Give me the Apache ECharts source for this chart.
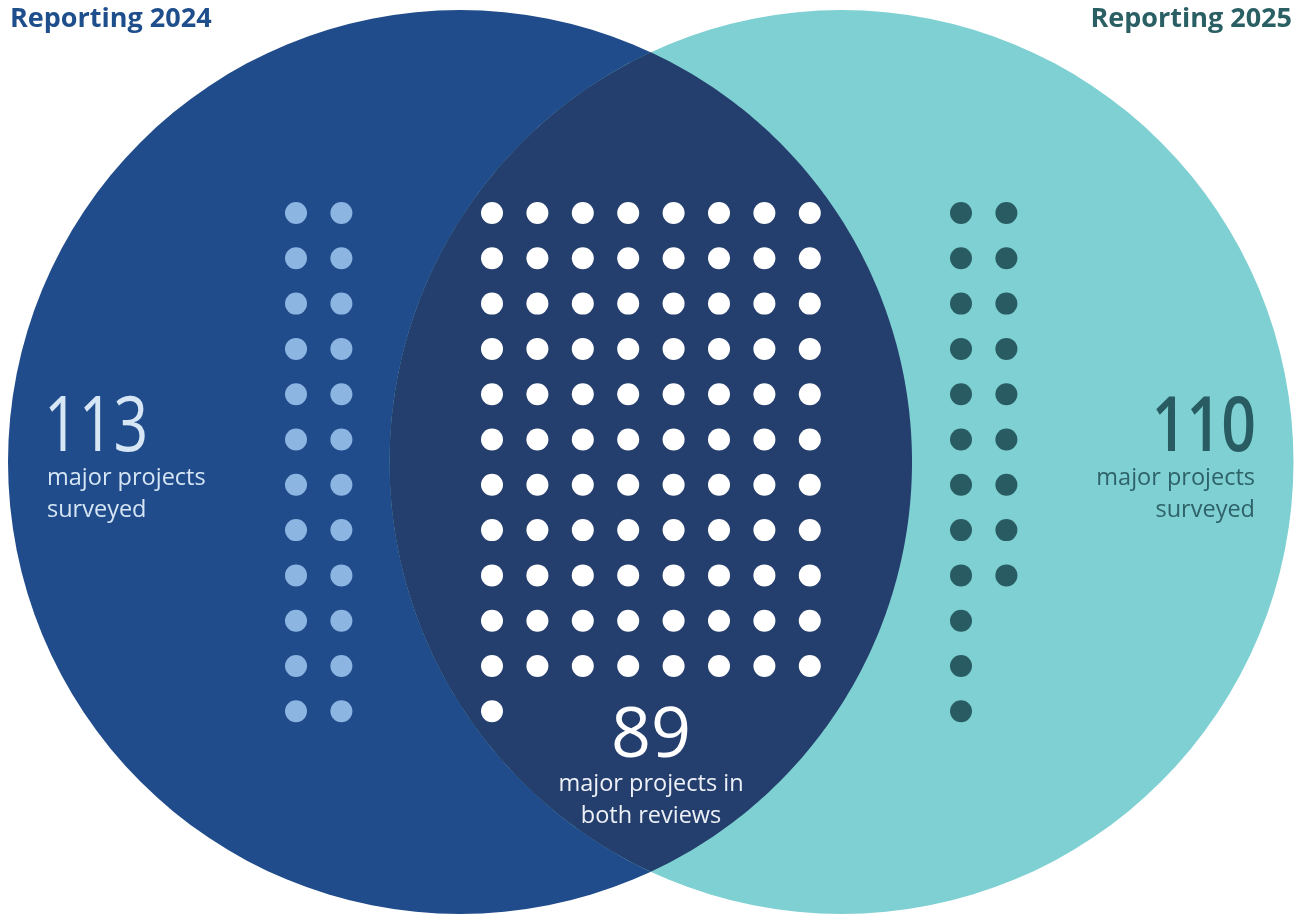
<!DOCTYPE html>
<html><head><meta charset="utf-8">
<style>html,body{margin:0;padding:0;background:#fff}#c{width:1295px;height:914px}</style>
<script src="https://cdn.jsdelivr.net/npm/echarts@6/dist/echarts.min.js"></script>
</head><body><div id="c"></div><script>
// ---- data ----
const setNames = ['Reporting 2024', 'Reporting 2025'];
const setTotals = [113, 110];
const bothTotal = 89;
const totalCaption = ['major projects', 'surveyed'];
const bothCaption = ['major projects in', 'both reviews'];

// ---- layout / style ----
const W = 1295, H = 914;
const circleCx = [460, 841.5], circleCy = 462, circleR = 452;
const circleColors = ['#204c8c', '#7ed0d2'];
const lensColor = '#243e6d';
const dotColors = ['#8db5e2', '#ffffff', '#295c62'];
const pitchX = 45.4, pitchY = 45.3, rowTop = 213, rowsPerCol = 12;
const leftCol0 = 296, centerCol0 = 492, rightCol0 = 961, centerCols = 8;
const font = '"Open Sans", "Noto Sans", sans-serif';

const leftOnly = setTotals[0] - bothTotal;   // 24
const rightOnly = setTotals[1] - bothTotal;  // 21

// dots: side groups fill column by column, middle fills row by row
const leftDots = [], midDots = [], rightDots = [];
for (let i = 0; i < leftOnly; i++) {
  leftDots.push([leftCol0 + Math.floor(i / rowsPerCol) * pitchX, rowTop + (i % rowsPerCol) * pitchY]);
}
for (let i = 0; i < rightOnly; i++) {
  rightDots.push([rightCol0 + Math.floor(i / rowsPerCol) * pitchX, rowTop + (i % rowsPerCol) * pitchY]);
}
for (let i = 0; i < bothTotal; i++) {
  midDots.push([centerCol0 + (i % centerCols) * pitchX, rowTop + Math.floor(i / centerCols) * pitchY]);
}

// lens polygon (in data units)
function lensPoints() {
  const d = circleCx[1] - circleCx[0];
  const mx = (circleCx[0] + circleCx[1]) / 2;
  const h = Math.sqrt(circleR * circleR - (d / 2) * (d / 2));
  const a0 = Math.atan2(-h, mx - circleCx[0]);
  const pts = [];
  const N = 200;
  for (let k = 0; k <= N; k++) {
    const a = a0 + (-2 * a0) * k / N;
    pts.push([circleCx[0] + circleR * Math.cos(a), circleCy + circleR * Math.sin(a)]);
  }
  const b0 = Math.atan2(h, mx - circleCx[1]);
  const b1 = Math.atan2(-h, mx - circleCx[1]) + 2 * Math.PI;
  for (let k = 0; k <= N; k++) {
    const a = b0 + (b1 - b0) * k / N;
    pts.push([circleCx[1] + circleR * Math.cos(a), circleCy + circleR * Math.sin(a)]);
  }
  return pts;
}

const chart = echarts.init(document.getElementById('c'), null, {renderer: 'canvas'});

function txt(text, x, y, size, color, align, weight, sx) {
  return {type: 'text', x: x, y: y, z: 100, silent: true, scaleX: sx || 1,
    style: {text: text, font: (weight || 'normal') + ' ' + size + 'px ' + font, fill: color,
      align: align, verticalAlign: 'middle'}};
}

chart.setOption({
  animation: false,
  backgroundColor: '#ffffff',
  grid: {left: 0, right: 0, top: 0, bottom: 0},
  xAxis: {type: 'value', min: 0, max: W, show: false},
  yAxis: {type: 'value', min: 0, max: H, inverse: true, show: false},
  series: [
    {type: 'custom', coordinateSystem: 'cartesian2d', clip: false, z: 1,
      data: circleCx.map(function (cx, i) { return [cx, circleCy, circleR, i]; }),
      renderItem: function (params, api) {
        const c = api.coord([api.value(0), api.value(1)]);
        const r = api.size([api.value(2), 0])[0];
        return {type: 'circle', shape: {cx: c[0], cy: c[1], r: r},
          style: {fill: circleColors[api.value(3)]}};
      }},
    {type: 'custom', coordinateSystem: 'cartesian2d', clip: false, z: 2,
      data: [[0]],
      renderItem: function (params, api) {
        const pts = lensPoints().map(function (p) { return api.coord(p); });
        return {type: 'polygon', shape: {points: pts}, style: {fill: lensColor}};
      }},
    {type: 'scatter', z: 3, data: leftDots, symbolSize: 22, itemStyle: {color: dotColors[0], opacity: 1}, silent: true},
    {type: 'scatter', z: 3, data: midDots, symbolSize: 22, itemStyle: {color: dotColors[1], opacity: 1}, silent: true},
    {type: 'scatter', z: 3, data: rightDots, symbolSize: 22, itemStyle: {color: dotColors[2], opacity: 1}, silent: true}
  ],
  graphic: {elements: [
    txt(setNames[0], 10, 19, 27, '#1f4e8c', 'left', 'bold'),
    txt(setNames[1], 1292, 19, 27, '#2a5f64', 'right', 'bold'),
    txt(String(setTotals[0]), 44, 429, 76, '#d6e6f5', 'left', '500', 0.8),
    txt(totalCaption[0], 47, 478, 23.5, '#d6e6f5', 'left'),
    txt(totalCaption[1], 47, 510, 23.5, '#d6e6f5', 'left'),
    txt(String(setTotals[1]), 1256, 429, 76, '#295c62', 'right', '600', 0.8),
    txt(totalCaption[0], 1255, 478, 23.5, '#2e6268', 'right'),
    txt(totalCaption[1], 1255, 510, 23.5, '#2e6268', 'right'),
    txt(String(bothTotal), 651, 737, 70, '#ffffff', 'center', '500'),
    txt(bothCaption[0], 651, 784, 23.5, '#eef2f8', 'center'),
    txt(bothCaption[1], 651, 816, 23.5, '#eef2f8', 'center')
  ]}
});
</script></body></html>
